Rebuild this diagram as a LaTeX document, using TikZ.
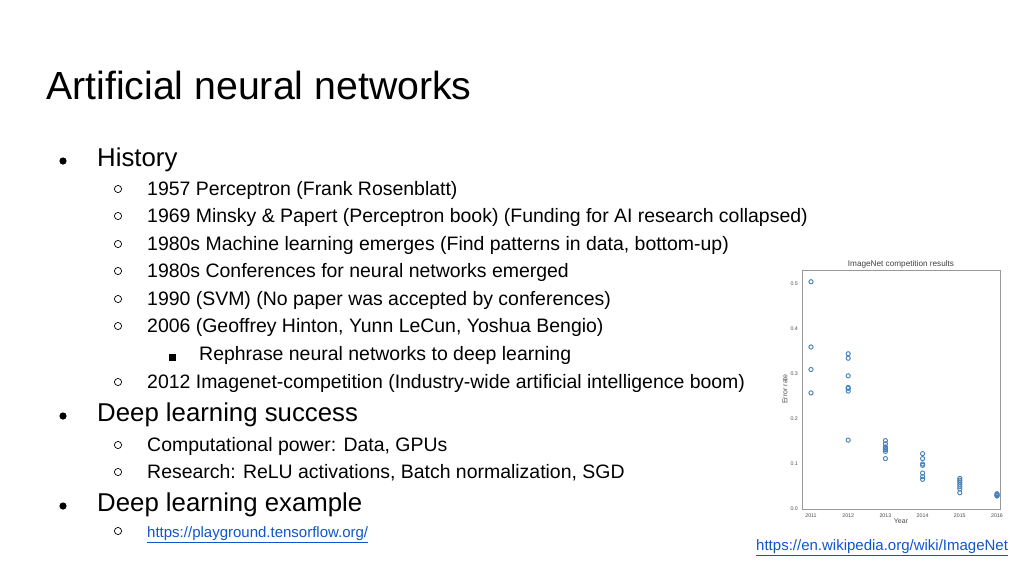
\documentclass[tikz,border=0pt]{standalone}
\usepackage{fontspec}
\setmainfont{Liberation Sans}
\definecolor{linkblue}{RGB}{17,85,204}
\definecolor{dotblue}{RGB}{70,130,190}
\begin{document}
\begin{tikzpicture}[
    x=0.03cm, y=-0.03cm,
    title/.style={anchor=base west, inner sep=0pt, font=\fontsize{33.5}{38}\selectfont},
    lvlone/.style={anchor=base west, inner sep=0pt, font=\fontsize{22}{26}\selectfont},
    lvltwo/.style={anchor=base west, inner sep=0pt, font=\fontsize{16.6}{20}\selectfont},
    link/.style={anchor=base west, inner sep=0pt, font=\fontsize{12.8}{15}\selectfont, text=linkblue},
    tick/.style={font=\fontsize{4.5}{5}\selectfont, text=black!70},
    pt/.style={draw=dotblue, thick, circle, inner sep=0pt, minimum size=3.6pt}
]
\useasboundingbox (0,0) rectangle (1024,576);

% Title
\node[title] (ttl) at (46,99) {Artificial neural networks};

% Bullets
\node[lvlone] (hist) at (97,166) {History};
\node[lvltwo] (h1) at (147,195) {1957 Perceptron (Frank Rosenblatt)};
\node[lvltwo] (h2) at (147,222) {1969 Minsky \& Papert (Perceptron book) (Funding for AI research collapsed)};
\node[lvltwo] (h3) at (147,250) {1980s Machine learning emerges (Find patterns in data, bottom-up)};
\node[lvltwo] (h4) at (147,277) {1980s Conferences for neural networks emerged};
\node[lvltwo] (h5) at (147,305) {1990 (SVM) (No paper was accepted by conferences)};
\node[lvltwo] (h6) at (147,332) {2006 (Geoffrey Hinton, Yunn LeCun, Yoshua Bengio)};
\node[lvltwo] (h6a) at (199,360) {Rephrase neural networks to deep learning};
\node[lvltwo] (h7) at (147,388) {2012 Imagenet-competition (Industry-wide artificial intelligence boom)};
\node[lvlone] (succ) at (97,421) {Deep learning success};
\node[lvltwo] (s1) at (147,451) {Computational power: Data, GPUs};
\node[lvltwo] (s2) at (147,478) {Research: ReLU activations, Batch normalization, SGD};
\node[lvlone] (expl) at (97,511) {Deep learning example};
\node[link] (e1) at (147,537) {\underline{https://playground.tensorflow.org/}};
\node[link] (src) at (756,550) {\underline{https://en.wikipedia.org/wiki/ImageNet}};

% Bullet marks
\foreach \y in {166,421,511}
  \fill (63,\y-5) circle (3.6);
\foreach \y in {195,222,250,277,305,332,388,451,478,537}
  \draw[line width=0.6pt] (118,\y-6) circle (3.6);
\fill (169,354) rectangle (176,361);

% Chart frame
\draw[black!40, line width=0.4pt] (802,270) rectangle (1000,509);
\node[font=\fontsize{7}{8}\selectfont, text=black!75] (ctitle) at (901,264) {ImageNet competition results};
\node[tick, font=\fontsize{6}{7}\selectfont] (xlab) at (901,521) {Year};
\node[tick, font=\fontsize{6}{7}\selectfont, rotate=90] (ylab) at (785,389) {Error rate};
\foreach \v/\l in {0/0.0,1/0.1,2/0.2,3/0.3,4/0.4,5/0.5}
  \node[tick, anchor=east] at (802,509-45*\v) {\l};
\foreach \k in {0,...,5}
  \pgfmathtruncatemacro{\yr}{2011+\k}
  \node[tick, anchor=north] at (811+37.2*\k,510) {\yr};

% Data
\foreach \k/\e in {0/.505,0/.36,0/.31,0/.258,
    1/.345,1/.335,1/.296,1/.27,1/.268,1/.262,1/.153,
    2/.152,2/.145,2/.138,2/.135,2/.132,2/.128,2/.112,
    3/.123,3/.112,3/.1,3/.097,3/.08,3/.072,3/.066,
    4/.068,4/.064,4/.06,4/.055,4/.05,4/.045,4/.036,
    5/.034,5/.032,5/.03,5/.029}
  \node[pt] at (811+37.2*\k,509-450*\e) {};
\end{tikzpicture}
\end{document}
